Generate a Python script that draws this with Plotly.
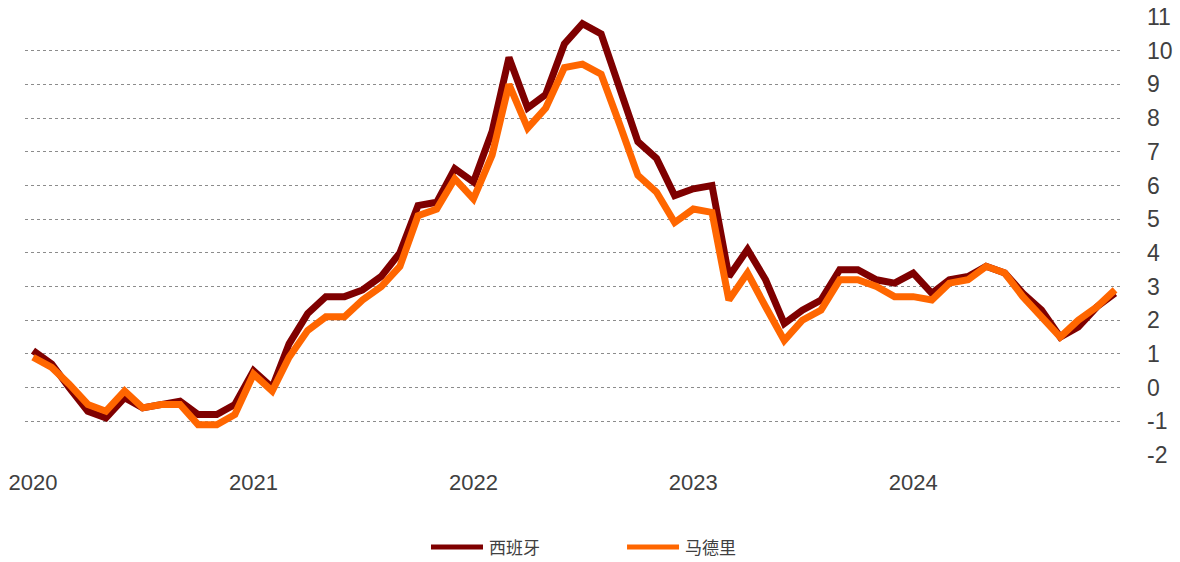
import pandas as pd
import plotly.graph_objects as go

# Monthly year-on-year CPI change (%), Jan 2020 - Dec 2024
months = pd.date_range("2020-01-01", "2024-12-01", freq="MS")

spain = [
    1.1, 0.7, 0.0, -0.7, -0.9, -0.3, -0.6, -0.5, -0.4, -0.8, -0.8, -0.5,
    0.5, 0.0, 1.3, 2.2, 2.7, 2.7, 2.9, 3.3, 4.0, 5.4, 5.5, 6.5,
    6.1, 7.6, 9.8, 8.3, 8.7, 10.2, 10.8, 10.5, 8.9, 7.3, 6.8, 5.7,
    5.9, 6.0, 3.3, 4.1, 3.2, 1.9, 2.3, 2.6, 3.5, 3.5, 3.2, 3.1,
    3.4, 2.8, 3.2, 3.3, 3.6, 3.4, 2.8, 2.3, 1.5, 1.8, 2.4, 2.8,
]

madrid = [
    0.9, 0.6, 0.1, -0.5, -0.7, -0.1, -0.6, -0.5, -0.5, -1.1, -1.1, -0.8,
    0.4, -0.1, 0.9, 1.7, 2.1, 2.1, 2.6, 3.0, 3.6, 5.1, 5.3, 6.2,
    5.6, 6.9, 9.0, 7.7, 8.3, 9.5, 9.6, 9.3, 7.8, 6.3, 5.8, 4.9,
    5.3, 5.2, 2.6, 3.4, 2.4, 1.4, 2.0, 2.3, 3.2, 3.2, 3.0, 2.7,
    2.7, 2.6, 3.1, 3.2, 3.6, 3.4, 2.7, 2.1, 1.5, 2.0, 2.4, 2.9,
]

series_names = ["西班牙", "马德里"]
series_colors = ["#7f0000", "#ff6600"]

year_ticks = ["2020-01-01", "2021-01-01", "2022-01-01", "2023-01-01", "2024-01-01"]
year_labels = ["2020", "2021", "2022", "2023", "2024"]
y_ticks = list(range(-2, 12))
y_labels = [str(v) for v in y_ticks]  # plain hyphen for negatives

fig = go.Figure()
for name, values, color in zip(series_names, [spain, madrid], series_colors):
    fig.add_trace(go.Scatter(
        x=months, y=values, mode="lines", name=name,
        line=dict(color=color, width=7),
        showlegend=False,
    ))

# Legend drawn below the plot: short thick line followed by the series name
legend_y = -0.21
legend_items = [(0.3701, 0.4175, 0.4210), (0.5488, 0.5962, 0.6000)]
for (x0, x1, xt), name, color in zip(legend_items, series_names, series_colors):
    fig.add_shape(type="line", xref="paper", yref="paper",
                  x0=x0, x1=x1, y0=legend_y, y1=legend_y,
                  line=dict(color=color, width=5))
    fig.add_annotation(xref="paper", yref="paper", x=xt, y=legend_y,
                       text=name, showarrow=False, xanchor="left", yanchor="middle",
                       font=dict(size=17, color="#404040",
                                 family="Noto Sans CJK SC, Liberation Sans, Arial"))

fig.update_layout(
    width=1180, height=562,
    margin=dict(l=25, r=58, t=17, b=107),
    plot_bgcolor="white", paper_bgcolor="white",
    font=dict(family="Liberation Sans, Arial, sans-serif", size=23, color="#404040"),
    xaxis=dict(
        type="date", automargin=False,
        range=["2019-12-18 16:00", "2024-12-12 14:00"],
        tickvals=year_ticks, ticktext=year_labels,
        showgrid=False, zeroline=False, showline=False,
        ticks="outside", ticklen=8, tickcolor="rgba(0,0,0,0)",
        tickfont=dict(size=22, color="#404040"),
    ),
    yaxis=dict(
        side="right", automargin=False,
        range=[-2, 11],
        tickvals=y_ticks, ticktext=y_labels,
        showgrid=True, gridcolor="#8c8c8c", gridwidth=1, griddash="dot",
        zeroline=False, showline=False,
        ticks="", ticklabelstandoff=24,
        tickfont=dict(size=23, color="#404040"),
    ),
)

fig.write_html("out.html")
